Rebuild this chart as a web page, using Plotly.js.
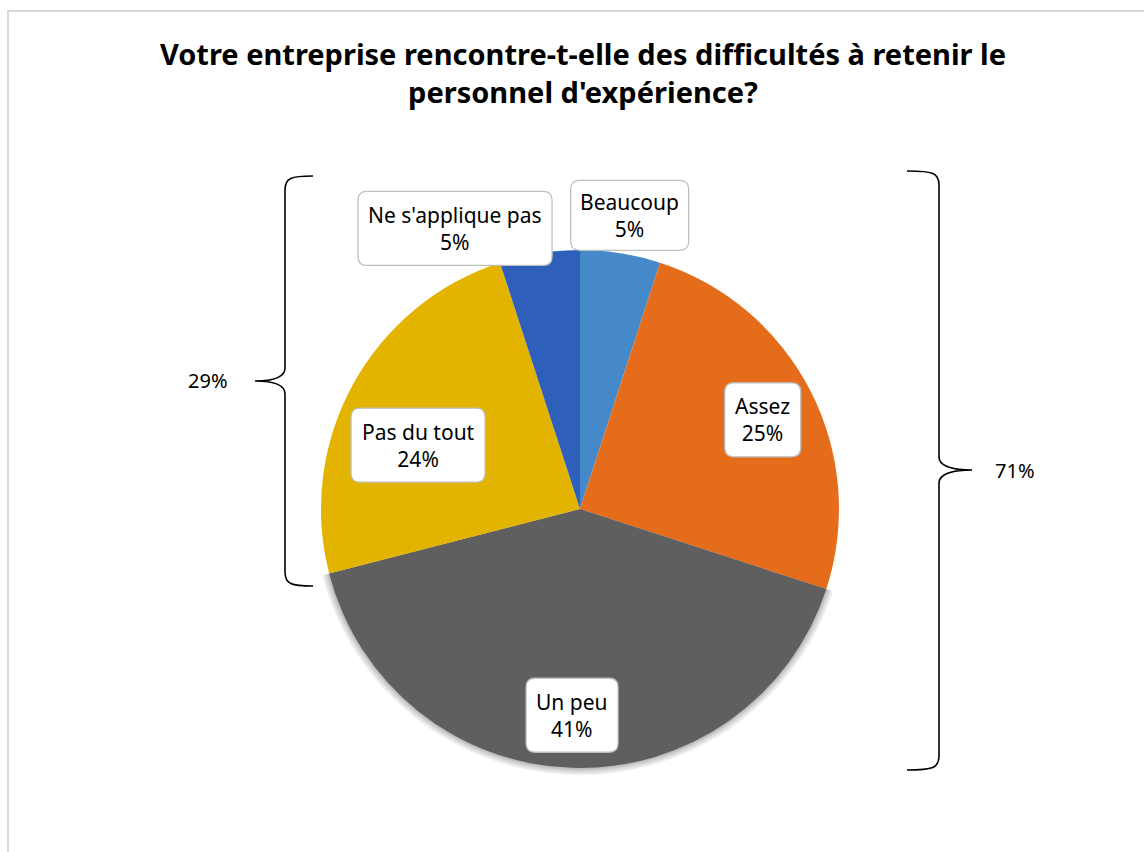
<!DOCTYPE html>
<html>
<head>
<meta charset="utf-8">
<script src="https://cdn.plot.ly/plotly-3.0.1.min.js"></script>
<style>html,body{margin:0;padding:0;background:#fff;}#chart{width:1144px;height:852px;}</style>
</head>
<body>
<div id="chart"></div>
<script>
// ---- data ----
const categories = ["Beaucoup", "Assez", "Un peu", "Pas du tout", "Ne s'applique pas"];
const values = [5, 25, 41, 24, 5];
const colors = ["#4589C8", "#E46C1A", "#5F5F5F", "#E2B400", "#2E5FBB"];
const groupRight = [0, 1, 2];   // 71%
const groupLeft = [3, 4];       // 29%
const titleText = "Votre entreprise rencontre-t-elle des difficultés à retenir le<br>personnel d'expérience?";

// ---- layout helpers (pixels -> paper) ----
const W = 1144, H = 852;
const X = p => p / W;
const Y = p => 1 - p / H;
const cx = 580, cy = 509, R = 259;
const FONT = "Noto Sans, sans-serif";

// label placement: [radius factor, angle offset in degrees, box width, box height]
const labelPlace = [
  [1.15, 0.6, 118, 70],
  [0.785, 1.0, 76, 74],
  [0.797, 0.4, 92, 74],
  [0.672, -7.3, 134, 74],
  [1.186, -15.0, 194, 74]
];

const total = values.reduce((a, b) => a + b, 0);
const pct = v => Math.round(v / total * 100) + "%";

function roundRect(x0, y0, x1, y1, r) {
  const p = (x, y) => X(x) + "," + Y(y);
  return "M" + p(x0 + r, y0) + " L" + p(x1 - r, y0) + " Q" + p(x1, y0) + " " + p(x1, y0 + r) +
    " L" + p(x1, y1 - r) + " Q" + p(x1, y1) + " " + p(x1 - r, y1) +
    " L" + p(x0 + r, y1) + " Q" + p(x0, y1) + " " + p(x0, y1 - r) +
    " L" + p(x0, y0 + r) + " Q" + p(x0, y0) + " " + p(x0 + r, y0) + " Z";
}

const shapes = [];
const annotations = [];

// chart-area border
shapes.push({type: "rect", xref: "paper", yref: "paper", x0: X(8), x1: X(1150), y0: Y(860), y1: Y(11),
  line: {color: "#D9D9D9", width: 2}, fillcolor: "rgba(0,0,0,0)", layer: "below"});

// data labels
let cum = 0;
values.forEach((v, i) => {
  const mid = (cum + v / 2) / total * 360;
  cum += v;
  const [f, off, bw, bh] = labelPlace[i];
  const a = (mid + off) * Math.PI / 180;
  const lx = cx + R * f * Math.sin(a);
  const ly = cy - R * f * Math.cos(a);
  shapes.push({type: "path", xref: "paper", yref: "paper",
    path: roundRect(lx - bw / 2, ly - bh / 2, lx + bw / 2, ly + bh / 2, 9),
    fillcolor: "#FFFFFF", line: {color: "#BFBFBF", width: 1.3}, layer: "above"});
  annotations.push({xref: "paper", yref: "paper", x: X(lx), y: Y(ly), xanchor: "center", yanchor: "middle",
    text: categories[i] + "<br>" + pct(v), showarrow: false, font: {family: FONT, size: 21, color: "#000"}});
});

// braces
function brace(xv, xe, xt, yTop, yMid, yBot) {
  const s = Math.sign(xe - xv);
  const p = (x, y) => X(x) + "," + Y(y);
  return "M" + p(xe, yTop) + " C" + p(xv + s * 6, yTop) + " " + p(xv, yTop + 2) + " " + p(xv, yTop + 14) +
    " L" + p(xv, yMid - 13) + " C" + p(xv, yMid - 3) + " " + p((xv + xt) / 2, yMid) + " " + p(xt, yMid) +
    " C" + p((xv + xt) / 2, yMid) + " " + p(xv, yMid + 3) + " " + p(xv, yMid + 13) +
    " L" + p(xv, yBot - 14) + " C" + p(xv, yBot - 2) + " " + p(xv + s * 6, yBot) + " " + p(xe, yBot);
}
shapes.push({type: "path", xref: "paper", yref: "paper", path: brace(285, 313, 255, 176, 381, 586),
  line: {color: "#000", width: 1.6}});
shapes.push({type: "path", xref: "paper", yref: "paper", path: brace(939, 907, 972, 171, 470, 770),
  line: {color: "#000", width: 1.6}});

const sumOf = idx => idx.reduce((a, i) => a + values[i], 0);
annotations.push({xref: "paper", yref: "paper", x: X(208), y: Y(381), xanchor: "center", yanchor: "middle",
  text: pct(sumOf(groupLeft)), showarrow: false, font: {family: FONT, size: 20, color: "#000"}});
annotations.push({xref: "paper", yref: "paper", x: X(1015), y: Y(470), xanchor: "center", yanchor: "middle",
  text: pct(sumOf(groupRight)), showarrow: false, font: {family: FONT, size: 20, color: "#000"}});

const pieDomain = extra => ({x: [X(cx - R - extra), X(cx + R + extra)], y: [Y(cy + R + extra), Y(cy - R - extra)]});

// soft shadow under the dark slice (same data, faint layers)
const shadowTraces = [7, 5, 3, 1.5].map(extra => ({
  type: "pie", labels: categories, values: values, sort: false, direction: "clockwise", rotation: 0,
  marker: {colors: colors.map((c, i) => i === 2 ? "rgba(0,0,0,0.07)" : "rgba(0,0,0,0)"), line: {width: 0}},
  textinfo: "none", hoverinfo: "skip", domain: pieDomain(extra), showlegend: false
}));

const trace = {
  type: "pie",
  labels: categories,
  values: values,
  sort: false,
  direction: "clockwise",
  rotation: 0,
  marker: {colors: colors, line: {width: 0}},
  textinfo: "none",
  hoverinfo: "label+percent",
  domain: pieDomain(0),
  showlegend: false
};

const layout = {
  width: W, height: H,
  margin: {l: 0, r: 0, t: 0, b: 0},
  paper_bgcolor: "#FFFFFF",
  plot_bgcolor: "#FFFFFF",
  title: {text: titleText, x: X(583), xanchor: "center", y: Y(65), yanchor: "top", yref: "container",
    font: {family: FONT, size: 29, color: "#000", weight: "bold"}},
  showlegend: false,
  shapes: shapes,
  annotations: annotations
};

Plotly.newPlot("chart", shadowTraces.concat([trace]), layout, {displayModeBar: false, staticPlot: true});
</script>
</body>
</html>
